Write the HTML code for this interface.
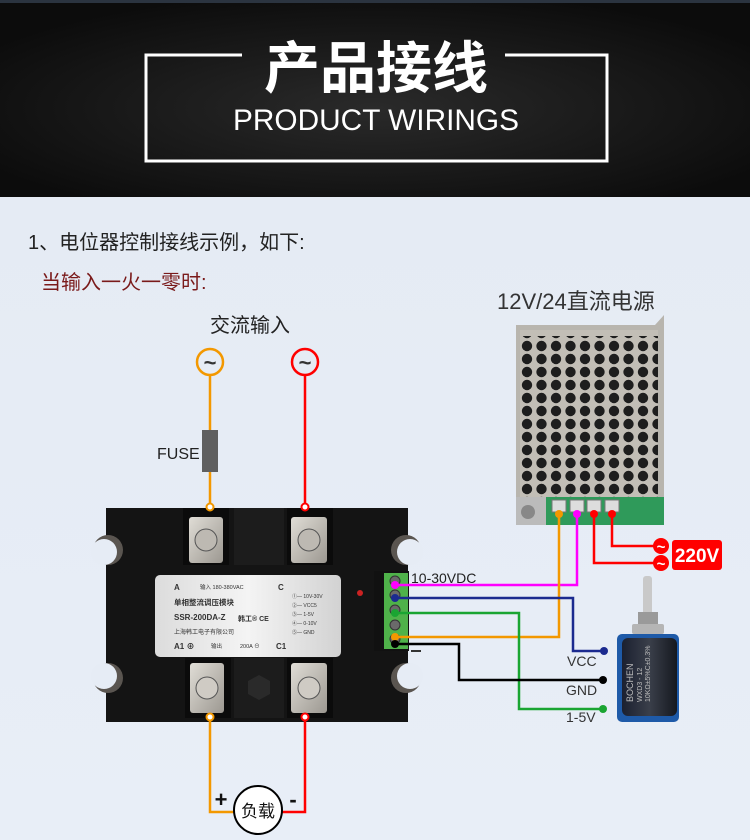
<!DOCTYPE html>
<html><head><meta charset="utf-8"><style>
html,body{margin:0;padding:0;width:750px;height:840px;overflow:hidden;background:#e6ecf5}
svg{display:block}
text{font-family:"Liberation Sans","Noto Sans CJK SC",sans-serif}
</style></head><body>
<svg width="750" height="840" viewBox="0 0 750 840" xmlns="http://www.w3.org/2000/svg">
<defs>
<radialGradient id="hd" cx="50%" cy="55%" r="60%"><stop offset="0" stop-color="#2a2a2a"/><stop offset="1" stop-color="#0c0c0c"/></radialGradient>
<linearGradient id="bg" x1="0" y1="0" x2="0" y2="1"><stop offset="0" stop-color="#e4eaf3"/><stop offset="1" stop-color="#e8eef7"/></linearGradient>
<pattern id="holes" x="520" y="340" width="14.5" height="13" patternUnits="userSpaceOnUse"><circle cx="7" cy="6" r="5.2" fill="#1e1e1e"/></pattern>
<linearGradient id="metal" x1="0" y1="0" x2="1" y2="1"><stop offset="0" stop-color="#e0ddd6"/><stop offset="1" stop-color="#9c9891"/></linearGradient>
<linearGradient id="plate" x1="0" y1="0" x2="1" y2="0"><stop offset="0" stop-color="#dcdcdc"/><stop offset=".5" stop-color="#f4f4f4"/><stop offset="1" stop-color="#d2d2d2"/></linearGradient>
<linearGradient id="potb" x1="0" y1="0" x2="1" y2="0"><stop offset="0" stop-color="#1b2030"/><stop offset=".5" stop-color="#3a3f4a"/><stop offset="1" stop-color="#15181f"/></linearGradient>
</defs>
<rect width="750" height="840" fill="url(#bg)"/>
<!-- header -->
<rect width="750" height="197" fill="url(#hd)"/>
<rect width="750" height="3" fill="#2b3440"/>
<path d="M242 55 H146 V161 H607 V55 H505" fill="none" stroke="#fff" stroke-width="3"/>
<text x="376" y="88" text-anchor="middle" font-size="56" font-weight="bold" fill="#fff" font-family="'Noto Sans CJK SC',sans-serif">产品接线</text>
<text x="376" y="130" text-anchor="middle" font-size="30" fill="#fff" textLength="286" lengthAdjust="spacingAndGlyphs">PRODUCT WIRINGS</text>
<!-- texts -->
<text x="28" y="249" font-size="20" fill="#222">1、电位器控制接线示例，如下:</text>
<text x="41" y="289" font-size="20" fill="#7a1a1a">当输入一火一零时:</text>
<text x="210" y="332" font-size="20" fill="#222">交流输入</text>
<text x="497" y="309" font-size="22" fill="#333">12V/24直流电源</text>
<!-- AC input -->
<line x1="210" y1="375" x2="210" y2="505" stroke="#f39800" stroke-width="2.5"/>
<line x1="305" y1="375" x2="305" y2="505" stroke="#f00" stroke-width="2.5"/>
<circle cx="210" cy="362" r="13" fill="#e6ecf5" stroke="#f39800" stroke-width="2.5"/>
<circle cx="305" cy="362" r="13" fill="#e6ecf5" stroke="#f00" stroke-width="2.5"/>
<text x="210" y="370" text-anchor="middle" font-size="22" font-weight="bold" fill="#333">~</text>
<text x="305" y="370" text-anchor="middle" font-size="22" font-weight="bold" fill="#333">~</text>
<rect x="202" y="430" width="16" height="42" fill="#5f5f5f"/>
<text x="157" y="459" font-size="16" fill="#222">FUSE</text>
<!-- SSR body -->
<rect x="106" y="508" width="302" height="214" fill="#141414"/>
<circle cx="108" cy="550" r="15" fill="#5a5550"/>
<circle cx="108" cy="678" r="15" fill="#5a5550"/>
<circle cx="406" cy="550" r="15" fill="#5a5550"/>
<circle cx="406" cy="678" r="15" fill="#5a5550"/>
<circle cx="104" cy="552" r="13" fill="#e6ecf5"/>
<circle cx="104" cy="676" r="13" fill="#e6ecf5"/>
<circle cx="410" cy="552" r="13" fill="#e6ecf5"/>
<circle cx="410" cy="676" r="13" fill="#e6ecf5"/>
<rect x="183" y="508" width="46" height="57" fill="#0b0b0b"/>
<rect x="234" y="508" width="50" height="57" fill="#1c1c1c"/>
<rect x="287" y="508" width="46" height="57" fill="#0b0b0b"/>
<rect x="189" y="517" width="34" height="46" rx="3" fill="url(#metal)"/>
<rect x="291" y="517" width="36" height="46" rx="3" fill="url(#metal)"/>
<circle cx="206" cy="540" r="11" fill="#bdb9b2" stroke="#555"/>
<circle cx="309" cy="540" r="11" fill="#bdb9b2" stroke="#555"/>
<rect x="185" y="658" width="46" height="60" fill="#0b0b0b"/>
<rect x="234" y="658" width="50" height="60" fill="#1c1c1c"/>
<rect x="287" y="658" width="46" height="60" fill="#0b0b0b"/>
<rect x="190" y="663" width="34" height="50" rx="3" fill="url(#metal)"/>
<rect x="291" y="663" width="36" height="50" rx="3" fill="url(#metal)"/>
<circle cx="207" cy="688" r="11" fill="#cfcbc4" stroke="#555"/>
<circle cx="309" cy="688" r="11" fill="#cfcbc4" stroke="#555"/>
<polygon points="259,675 270,681 270,694 259,700 248,694 248,681" fill="#2a2a2a"/>
<circle cx="210" cy="507" r="3.5" fill="#fff" stroke="#f39800" stroke-width="2"/>
<circle cx="305" cy="507" r="3.5" fill="#fff" stroke="#f00" stroke-width="2"/>
<circle cx="210" cy="717" r="3.5" fill="#fff" stroke="#f39800" stroke-width="2"/>
<circle cx="305" cy="717" r="3.5" fill="#fff" stroke="#f00" stroke-width="2"/>
<circle cx="360" cy="593" r="3" fill="#c22"/>
<!-- plate -->
<rect x="155" y="575" width="186" height="82" rx="5" fill="url(#plate)"/>
<g fill="#333" font-size="6.5">
<text x="174" y="590" font-size="8" font-weight="bold">A</text>
<text x="200" y="589" font-size="5.5">输入 180-380VAC</text>
<text x="278" y="590" font-size="8" font-weight="bold">C</text>
<text x="174" y="605" font-size="7.5" font-weight="bold">单相整流调压模块</text>
<text x="174" y="620" font-size="8" font-weight="bold">SSR-200DA-Z</text>
<text x="238" y="621" font-size="7" font-weight="bold">韩工® CE</text>
<text x="174" y="634" font-size="6">上海韩工电子有限公司</text>
<text x="174" y="649" font-size="8" font-weight="bold">A1 ⊕</text>
<text x="211" y="648" font-size="5.5">输出</text>
<text x="240" y="648" font-size="5.5">200A ⊖</text>
<text x="276" y="649" font-size="8" font-weight="bold">C1</text>
<text x="292" y="598" font-size="5">①— 10V-30V</text>
<text x="292" y="607" font-size="5">②— VCC5</text>
<text x="292" y="616" font-size="5">③— 1-5V</text>
<text x="292" y="625" font-size="5">④— 0-10V</text>
<text x="292" y="634" font-size="5">⑤— GND</text>
</g>
<!-- green terminal -->
<rect x="374" y="571" width="35" height="80" fill="#111"/>
<rect x="384" y="573" width="24" height="76" fill="#4fb24a"/>
<g fill="#6a6a6a" stroke="#333"><circle cx="395" cy="581" r="5"/><circle cx="395" cy="595" r="5"/><circle cx="395" cy="610" r="5"/><circle cx="395" cy="625" r="5"/><circle cx="395" cy="639" r="5"/></g>
<text x="411" y="583" font-size="14" fill="#222">10-30VDC</text>
<rect x="411" y="650" width="10" height="2" fill="#333"/>
<!-- power supply -->
<path d="M516 325 H655 L664 315 V525 H516 Z" fill="#b8b5ae"/>
<rect x="520" y="330" width="138" height="178" fill="#c2beb6"/>
<rect x="520" y="336" width="138" height="172" fill="url(#holes)"/>
<rect x="516" y="497" width="148" height="28" fill="#2f9a5a"/>
<rect x="516" y="497" width="30" height="28" fill="#bbb"/>
<circle cx="528" cy="512" r="7" fill="#888"/>
<g fill="#ddd" stroke="#777"><rect x="552" y="500" width="14" height="12"/><rect x="570" y="500" width="14" height="12"/><rect x="587" y="500" width="14" height="12"/><rect x="605" y="500" width="14" height="12"/></g>
<!-- DC wires -->
<g fill="none" stroke-width="2.5">
<polyline points="577,514 577,585 395,585" stroke="#f0f"/>
<polyline points="559,514 559,637 395,637" stroke="#f39800"/>
<polyline points="395,598 573,598 573,651 604,651" stroke="#1b2a8f"/>
<polyline points="395,613 519,613 519,709 603,709" stroke="#1aa532"/>
<polyline points="395,644 459,644 459,680 603,680" stroke="#000"/>
<polyline points="594,514 594,563 655,563" stroke="#f00"/>
<polyline points="612,514 612,546 655,546" stroke="#f00"/>
</g>
<circle cx="577" cy="514" r="4" fill="#f0f"/><circle cx="559" cy="514" r="4" fill="#f39800"/>
<circle cx="594" cy="514" r="4" fill="#f00"/><circle cx="612" cy="514" r="4" fill="#f00"/>
<circle cx="395" cy="585" r="4" fill="#f0f"/><circle cx="395" cy="598" r="4" fill="#1b2a8f"/>
<circle cx="395" cy="613" r="4" fill="#1aa532"/><circle cx="395" cy="637" r="4" fill="#f39800"/><circle cx="395" cy="644" r="4" fill="#000"/>
<circle cx="661" cy="546" r="8" fill="#f00"/><circle cx="661" cy="563" r="8" fill="#f00"/>
<text x="661" y="552" text-anchor="middle" font-size="15" font-weight="bold" fill="#fff">~</text>
<text x="661" y="569" text-anchor="middle" font-size="15" font-weight="bold" fill="#fff">~</text>
<rect x="672" y="540" width="50" height="30" rx="3" fill="#f00"/>
<text x="697" y="562" text-anchor="middle" font-size="19" font-weight="bold" fill="#fff">220V</text>
<!-- pot -->
<rect x="643" y="576" width="9" height="45" rx="3" fill="#c9c9c9"/>
<rect x="638" y="612" width="20" height="14" fill="#9a9a9a"/>
<rect x="632" y="624" width="32" height="10" rx="2" fill="#b5b5b5"/>
<rect x="617" y="634" width="62" height="88" rx="5" fill="#1e5aa8"/>
<rect x="622" y="638" width="55" height="78" rx="6" fill="url(#potb)"/>
<g transform="translate(633,702) rotate(-90)" fill="#bbb" font-size="7"><text x="0" y="0" font-size="9">BOCHEN</text><text x="0" y="9">WXD3 - 12</text><text x="0" y="17">10KΩ±5%C±0.3%</text></g>
<circle cx="604" cy="651" r="4" fill="#1b2a8f"/><circle cx="603" cy="680" r="4" fill="#000"/><circle cx="603" cy="709" r="4" fill="#1aa532"/>
<text x="567" y="666" font-size="14" fill="#333">VCC</text>
<text x="566" y="695" font-size="14" fill="#333">GND</text>
<text x="566" y="722" font-size="14" fill="#333">1-5V</text>
<!-- load -->
<polyline points="210,720 210,812 234,812" fill="none" stroke="#f39800" stroke-width="2.5"/>
<polyline points="305,720 305,812 282,812" fill="none" stroke="#f00" stroke-width="2.5"/>
<circle cx="258" cy="810" r="24" fill="#fff" stroke="#000" stroke-width="2"/>
<text x="258" y="817" text-anchor="middle" font-size="17" fill="#111">负载</text>
<text x="221" y="807" text-anchor="middle" font-size="22" font-weight="bold" fill="#111">+</text>
<text x="293" y="807" text-anchor="middle" font-size="22" font-weight="bold" fill="#111">-</text>
</svg>
</body></html>
